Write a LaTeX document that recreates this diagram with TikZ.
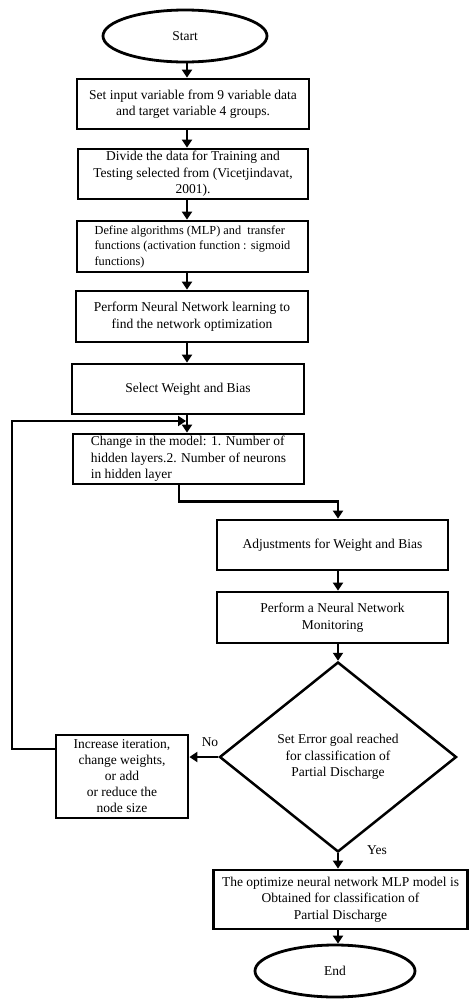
\documentclass[tikz,border=0pt]{standalone}
\usepackage{fontspec}
\setmainfont{Liberation Serif}
\usetikzlibrary{shapes.geometric,arrows.meta}
\begin{document}
\begin{tikzpicture}[x=1pt,y=-1pt,
 every node/.style={font=\fontsize{13.5}{16.5}\selectfont},
 box/.style={draw,line width=2.8pt,rectangle,inner sep=1pt,align=center},
 term/.style={draw,line width=2.8pt,ellipse,inner sep=0pt},
 dec/.style={draw,line width=2.5pt,diamond,inner sep=0pt,align=center},
 arr/.style={line width=2.6pt,-{Triangle[length=8pt,width=10pt]}},
 lbl/.style={inner sep=0pt}]
\useasboundingbox (0,0) rectangle (469,999);

\coordinate (cx) at (187,0);
\coordinate (dx) at (338,0);
\coordinate (c6) at (179,0);
\coordinate (fbL) at (12,421);
\coordinate (fbT) at (186,421);

\node[term,minimum width=164pt,minimum height=52pt] (start) at (185,36) {Start};
\node[box,minimum width=232pt,minimum height=50pt] (b1) at (193,104) {Set input variable from 9 variable data\\and target variable 4 groups.};
\node[box,minimum width=230pt,minimum height=50pt] (b2) at (193,174) {Divide the data for Training and\\Testing selected from (Vicetjindavat,\\2001).};
\node[box,minimum width=231pt,minimum height=51pt,align=left,font=\fontsize{12.3}{15.5}\selectfont] (b3) at (192.5,246.5) {Define algorithms (MLP) and \ transfer\\functions (activation function : sigmoid\\functions)};
\node[box,minimum width=232pt,minimum height=51pt] (b4) at (192,316.5) {Perform Neural Network learning to\\find the network optimization};
\node[box,minimum width=232pt,minimum height=50pt] (b5) at (188,389) {Select Weight and Bias};
\node[box,minimum width=231pt,minimum height=50pt,align=left] (b6) at (188.5,459) {Change in the model: 1. Number of\\hidden layers.2. Number of neurons\\in hidden layer};
\node[box,minimum width=231pt,minimum height=50pt] (b7) at (332.5,545) {Adjustments for Weight and Bias};
\node[box,minimum width=231pt,minimum height=51pt] (b8) at (332.5,617.5) {Perform a Neural Network\\Monitoring};
\node[dec,minimum width=237pt,minimum height=190pt] (dia) at (338,757) {Set Error goal reached\\for classification of\\Partial Discharge};
\node[box,minimum width=132pt,minimum height=83pt,font=\fontsize{13.5}{16}\selectfont] (b9) at (122,776.5) {Increase iteration,\\change weights,\\or add\\or reduce the\\node size};
\node[box,minimum width=254pt,minimum height=59pt] (b10) at (340.5,899.5) {The optimize neural network MLP model is\\Obtained for classification of\\Partial Discharge};
\node[term,minimum width=160pt,minimum height=52pt] (end) at (335,971) {End};

\node[lbl] (no) at (210,742) {No};
\node[lbl] (yes) at (377,850) {Yes};

\draw[arr] (start.south -| cx) -- (b1.north -| cx);
\draw[arr] (b1.south -| cx) -- (b2.north -| cx);
\draw[arr] (b2.south -| cx) -- (b3.north -| cx);
\draw[arr] (b3.south -| cx) -- (b4.north -| cx);
\draw[arr] (b4.south -| cx) -- (b5.north -| cx);
\draw[arr] (b5.south -| cx) -- (b6.north -| cx);
\draw[arr] (b6.south -| c6) -- ++(0,16) -| (b7.north -| dx);
\draw[arr] (b7.south -| dx) -- (b8.north -| dx);
\draw[arr] (b8.south -| dx) -- (dia.north);
\draw[arr] (dia.west) -- (dia.west -| b9.east);
\draw[arr] (dia.south) -- (b10.north -| dx);
\draw[arr] (b10.south -| dx) -- (end.north -| dx);
\draw[arr] ([yshift=27.5pt]b9.west) -| (fbL) -- (fbT);
\end{tikzpicture}
\end{document}
